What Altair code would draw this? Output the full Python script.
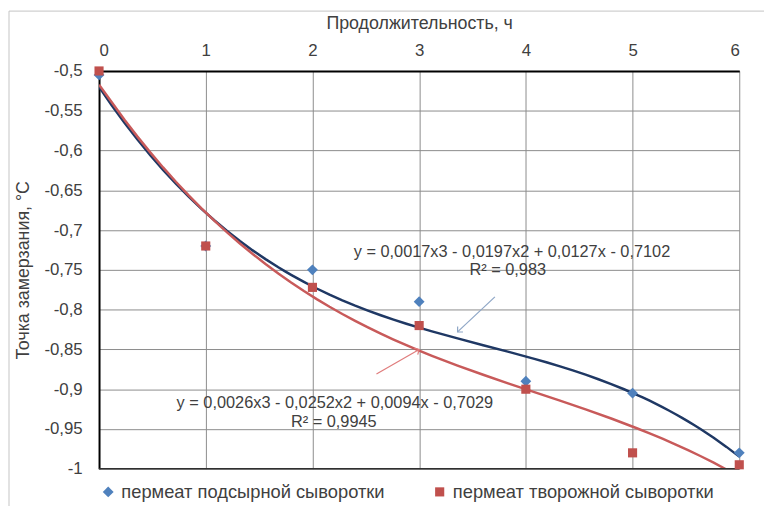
import altair as alt
import pandas as pd

# ---- data ----
hours = [0, 1, 2, 3, 4, 5, 6]
cheese_whey = [-0.505, -0.72, -0.75, -0.79, -0.89, -0.905, -0.98]
cottage_whey = [-0.50, -0.72, -0.772, -0.82, -0.90, -0.98, -0.995]
series_names = ["пермеат подсырной сыворотки", "пермеат творожной сыворотки"]
marker_colors = ["#4F81BD", "#C0504D"]
marker_shapes = ["diamond", "square"]
marker_sizes = [120, 85]
curve_colors = ["#1F3864", "#C85A5A"]
y_ticks = [-0.5, -0.55, -0.6, -0.65, -0.7, -0.75, -0.8, -0.85, -0.9, -0.95, -1]
x_ticks = [0, 1, 2, 3, 4, 5, 6]

eq_text = [
    "y = 0,0017x3 - 0,0197x2 + 0,0127x - 0,7102",
    "R² = 0,983",
    "y = 0,0026x3 - 0,0252x2 + 0,0094x - 0,7029",
    "R² = 0,9945",
]
eq_x = [3.87, 3.83, 2.21, 2.20]
eq_y = [-0.7276, -0.7500, -0.9180, -0.9415]

arrow_x_start = [3.71, 2.60]
arrow_y_start = [-0.784, -0.881]
arrow_x_end = [3.36, 3.00]
arrow_y_end = [-0.828, -0.850]
arrow_angle = [136, 330]
arrow_colors = ["#8EA6C6", "#E07C7C"]

FONT = "Liberation Sans"
TXT = "#404040"

rows = []
for name, vals in zip(series_names, [cheese_whey, cottage_whey]):
    for h, v in zip(hours, vals):
        rows.append({"hours": h, "value": v, "series": name})
df = pd.DataFrame(rows)

x_enc = alt.X(
    "hours:Q",
    scale=alt.Scale(domain=[0, 6], nice=False, zero=False),
    axis=alt.Axis(
        orient="top", values=x_ticks, format="d", title="Продолжительность, ч",
        grid=True, gridColor="#8c8c8c", gridWidth=1,
        domainColor="#000000", domainWidth=2, ticks=False,
        labelPadding=12, titlePadding=9,
        labelFontSize=17, titleFontSize=18, titleFontWeight="normal",
        labelColor=TXT, titleColor=TXT, labelFont=FONT, titleFont=FONT,
    ),
)
y_enc = alt.Y(
    "value:Q",
    scale=alt.Scale(domain=[-1, -0.5], nice=False, zero=False),
    axis=alt.Axis(
        values=y_ticks, labelExpr="replace(toString(datum.value), '.', ',')",
        title="Точка замерзания, °С",
        grid=True, gridColor="#8c8c8c", gridWidth=1,
        domainColor="#000000", domainWidth=2, ticks=False,
        labelPadding=17, titlePadding=12,
        labelFontSize=17, titleFontSize=18, titleFontWeight="normal",
        labelColor=TXT, titleColor=TXT, labelFont=FONT, titleFont=FONT,
    ),
)

leg = alt.Legend(
    title=None, orient="none", legendX=0, legendY=416, direction="horizontal",
    columns=2, columnPadding=46, labelFontSize=18.5, labelFont=FONT, labelColor=TXT,
    symbolSize=100, labelOffset=4, symbolStrokeWidth=0, labelLimit=500,
)

layers = []
for name, col in zip(series_names, curve_colors):
    layers.append(
        alt.Chart(df)
        .transform_filter(alt.datum.series == name)
        .transform_regression("hours", "value", method="poly", order=3, extent=[0, 6])
        .mark_line(color=col, strokeWidth=2.5, clip=True)
        .encode(x=x_enc, y=y_enc)
    )

bottom_rule = (
    alt.Chart(pd.DataFrame({"value": [y_ticks[-1]]}))
    .mark_rule(color="#303030", strokeWidth=1.5)
    .encode(y=y_enc)
)

points = (
    alt.Chart(df)
    .mark_point(filled=True, opacity=1)
    .encode(
        x=x_enc, y=y_enc,
        color=alt.Color("series:N", scale=alt.Scale(domain=series_names, range=marker_colors), legend=leg),
        shape=alt.Shape("series:N", scale=alt.Scale(domain=series_names, range=marker_shapes), legend=leg),
        size=alt.Size("series:N", scale=alt.Scale(domain=series_names, range=marker_sizes), legend=None),
    )
)

eq_df = pd.DataFrame({"hours": eq_x, "value": eq_y, "text": eq_text})
texts = (
    alt.Chart(eq_df)
    .mark_text(font=FONT, fontSize=16.5, color=TXT, align="center", baseline="middle")
    .encode(x=x_enc, y=y_enc, text="text:N")
)

arrow_layers = []
for i in range(2):
    adf = pd.DataFrame({
        "hours": [arrow_x_start[i]], "value": [arrow_y_start[i]],
        "hours2": [arrow_x_end[i]], "value2": [arrow_y_end[i]],
    })
    arrow_layers.append(
        alt.Chart(adf).mark_rule(color=arrow_colors[i], strokeWidth=1.2)
        .encode(x=x_enc, y=y_enc, x2="hours2:Q", y2="value2:Q")
    )
    hdf = pd.DataFrame({"hours": [arrow_x_end[i]], "value": [arrow_y_end[i]]})
    arrow_layers.append(
        alt.Chart(hdf).mark_point(
            shape="M-1,-1L0,0L-1,1", filled=False, size=60, strokeWidth=1.2,
            color=arrow_colors[i], angle=arrow_angle[i], opacity=1,
        ).encode(x=x_enc, y=y_enc)
    )

# light outer frame of the chart area (decoration, pixel positions)
frame_top = alt.Chart(pd.DataFrame({"k": [0]})).mark_rule(color="#c4c4c4", strokeWidth=1).encode(
    x=alt.value(-91), x2=alt.value(680), y=alt.value(-60.5)
)
frame_left = alt.Chart(pd.DataFrame({"k": [0]})).mark_rule(color="#c4c4c4", strokeWidth=1).encode(
    x=alt.value(-91), y=alt.value(-60.5), y2=alt.value(450)
)

chart = (
    alt.layer(frame_top, frame_left, *layers, bottom_rule, points, texts, *arrow_layers)
    .properties(
        width=647, height=402,
        autosize=alt.AutoSizeParams(type="none"),
        padding={"left": 92, "top": 61, "right": 25, "bottom": 35},
        background="white",
    )
    .configure_view(stroke="transparent")
)

chart.save("out.html", embed_options={"renderer": "svg", "actions": False})
